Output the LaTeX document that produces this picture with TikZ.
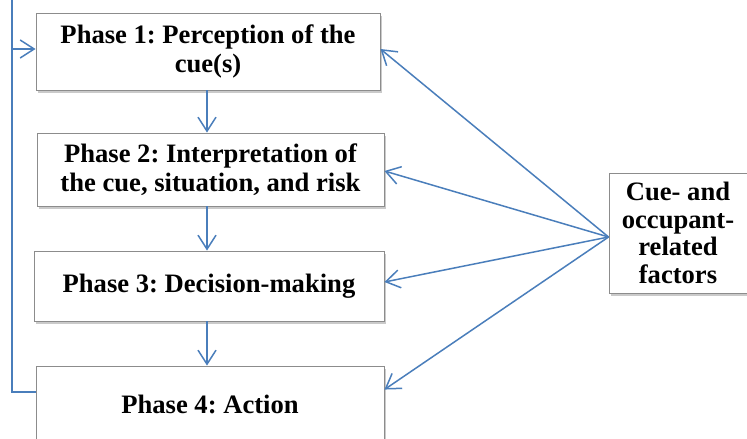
\documentclass[tikz,border=0pt]{standalone}
\usepackage{fontspec}
\setmainfont{Liberation Serif}
\usetikzlibrary{arrows.meta,shadows}
\definecolor{lineblue}{HTML}{4A7EBB}
\definecolor{boxgray}{HTML}{8C8C8C}
\frenchspacing
\tikzset{
  phasebox/.style={draw=boxgray, line width=0.9pt, fill=white, align=center,
    font=\fontsize{26.6}{29}\selectfont\bfseries, inner sep=0pt,
    drop shadow={shadow xshift=2pt, shadow yshift=-2.5pt, fill=black!35, opacity=0.6}},
  conn/.style={draw=lineblue, line width=1.5pt, -{Straight Barb[length=14pt,width=18pt,line width=1.5pt]}},
}
\begin{document}
\begin{tikzpicture}[x=1pt,y=-1pt]
\useasboundingbox (0,0) rectangle (747,439);
\node[phasebox, minimum width=344pt, minimum height=77pt] (p1) at (208,51.5) {Phase 1: Perception of the\\cue(s)};
\node[phasebox, minimum width=347pt, minimum height=73pt] (p2) at (210.5,169.5) {Phase 2: Interpretation of\\the cue, situation, and risk};
\node[phasebox, minimum width=350pt, minimum height=70pt] (p3) at (209,286) {Phase 3: Decision-making};
\node[phasebox, minimum width=348pt, minimum height=76pt] (p4) at (210,404) {Phase 4: Action};
\node[phasebox, minimum width=138pt, minimum height=120pt, font=\fontsize{26.6}{27.7}\selectfont\bfseries] (cf) at (678,233) {Cue- and\\occupant-\\related\\factors};
\coordinate (src) at ([yshift=-4pt]cf.west);
\draw[conn] (p1.south -| 207,0) -- (p2.north -| 207,0);
\draw[conn] (p2.south -| 207,0) -- (p3.north -| 207,0);
\draw[conn] (p3.south -| 207,0) -- (p4.north -| 207,0);
\draw[conn] (src) -- ([yshift=2.5pt]p1.east);
\draw[conn] (src) -- ([yshift=-1.5pt]p2.east);
\draw[conn] (src) -- ([yshift=4pt]p3.east);
\draw[conn] (src) -- ([yshift=-24pt]p4.north east);
\coordinate (lp) at (12,0);
\draw[conn] ([yshift=12pt]p4.west) -| (lp) |- ([yshift=2.5pt]p1.west);
\end{tikzpicture}
\end{document}
